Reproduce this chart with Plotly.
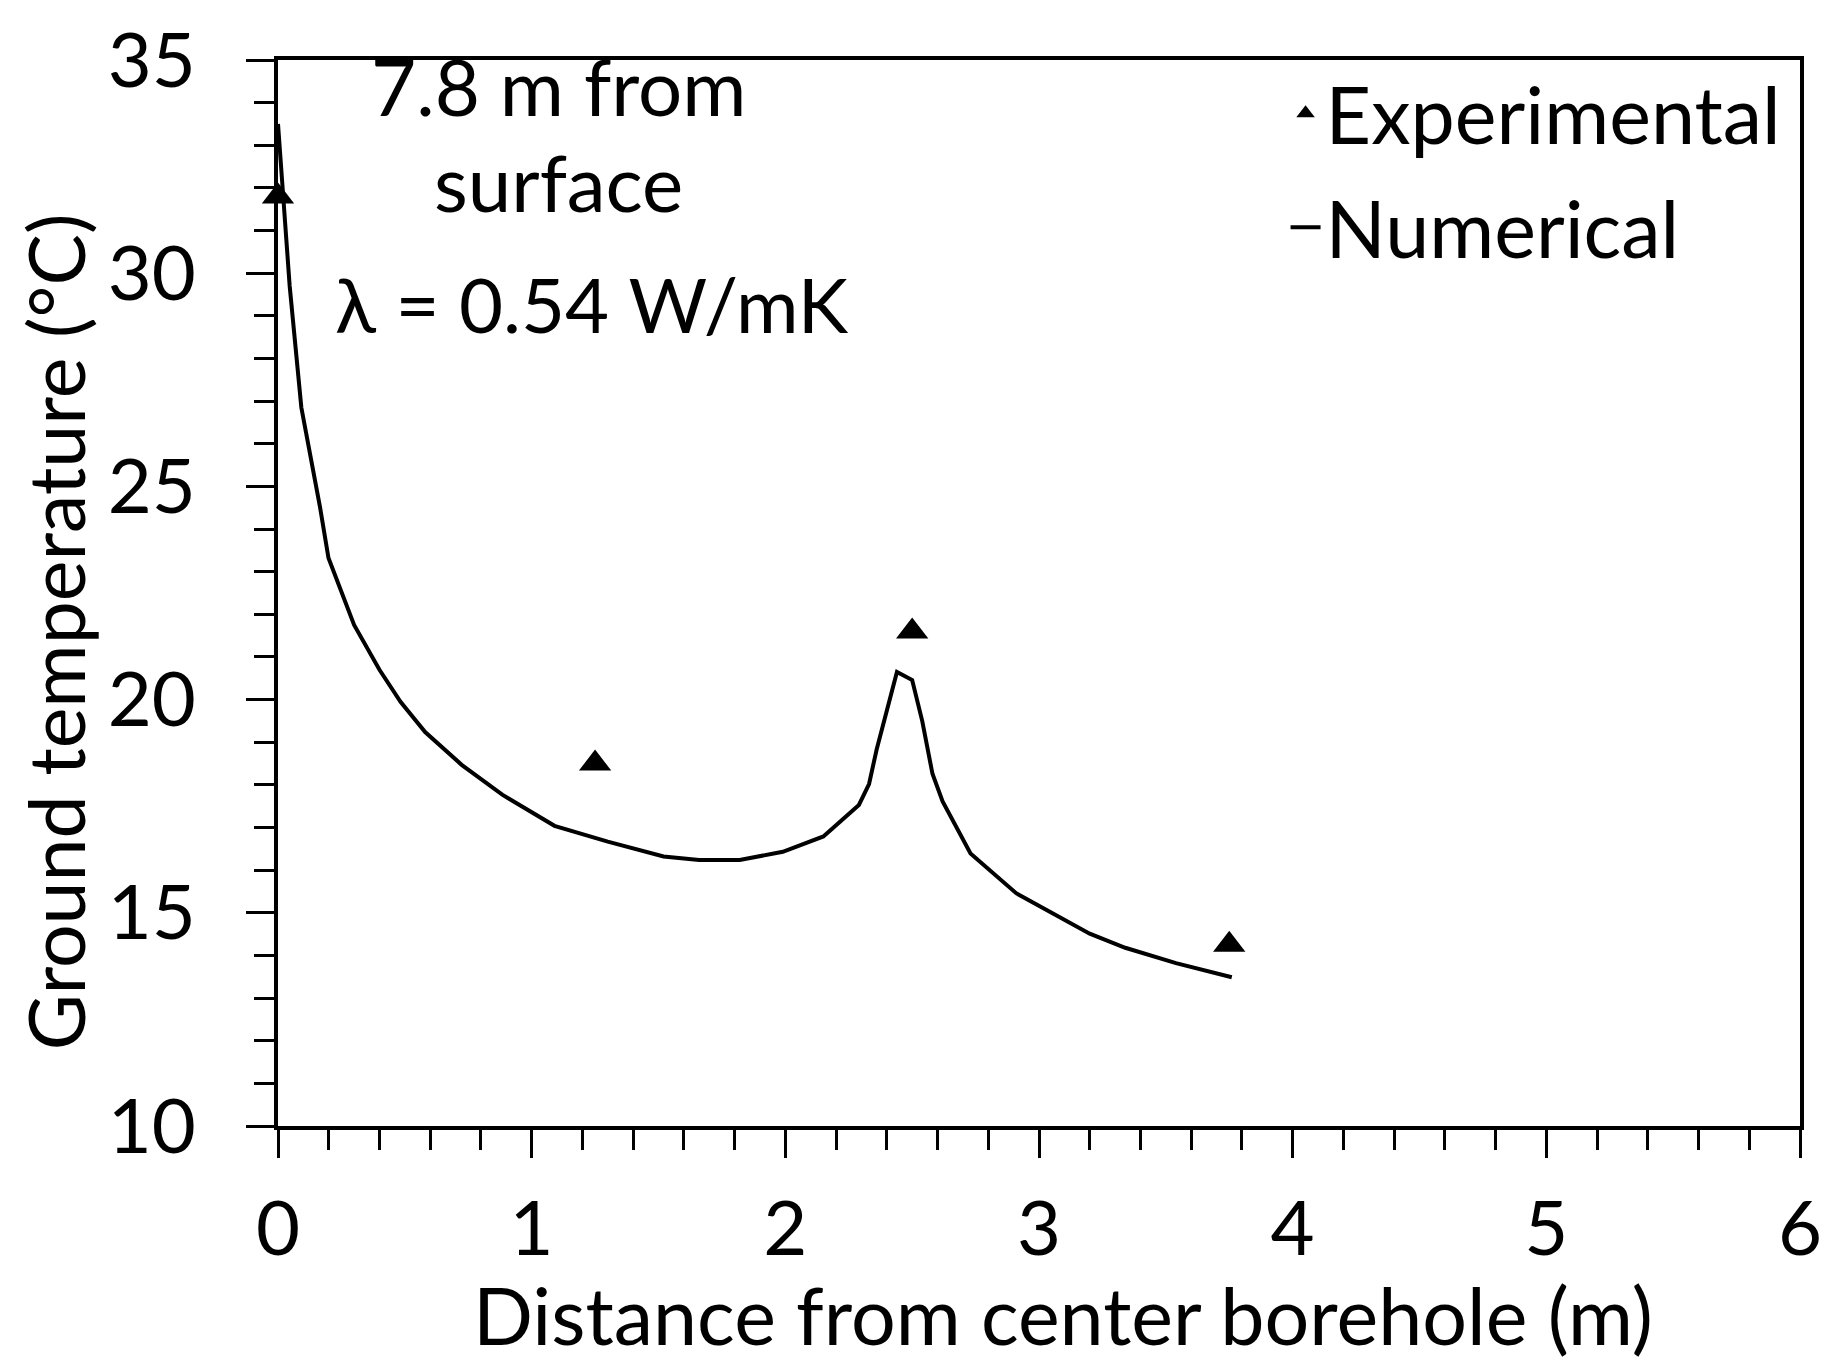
import plotly.graph_objects as go

# Experimental data
exp_x = [0.0, 1.25, 2.5, 3.75]
exp_y = [31.8, 18.5, 21.6, 14.25]

# Numerical data
num_x = [0.0, 0.046, 0.092, 0.166, 0.199, 0.30, 0.40, 0.483, 0.58, 0.724, 0.884, 1.09, 1.30,
         1.52, 1.66, 1.82, 1.99, 2.15, 2.29, 2.33, 2.36, 2.44, 2.50, 2.54, 2.58, 2.62, 2.73,
         2.91, 3.20, 3.34, 3.54, 3.76]
num_y = [33.5, 29.7, 26.85, 24.5, 23.32, 21.75, 20.7, 19.95, 19.24, 18.47, 17.77, 17.04, 16.67,
         16.32, 16.24, 16.24, 16.43, 16.79, 17.53, 18.02, 18.83, 20.65, 20.46, 19.49, 18.26, 17.61, 16.39,
         15.46, 14.51, 14.18, 13.82, 13.49]

FONT = "Lato"
FS = 76

fig = go.Figure()
fig.add_trace(go.Scatter(x=num_x, y=num_y, mode="lines", name="Numerical",
                         line=dict(color="black", width=4), legend="legend2"))
fig.add_trace(go.Scatter(x=exp_x, y=exp_y, mode="markers", name="Experimental",
                         marker=dict(symbol="triangle-up", size=28, color="black"),
                         legend="legend", cliponaxis=False))

axis_common = dict(showline=True, linecolor="black", linewidth=4, mirror=True,
                   ticks="outside", tickcolor="black", tickwidth=3, ticklen=28,
                   showgrid=False, zeroline=False,
                   tickfont=dict(family=FONT, size=FS, color="black"))

fig.update_xaxes(range=[0, 6], dtick=1, tick0=0,
                 minor=dict(dtick=0.2, ticks="outside", ticklen=20, tickwidth=3, tickcolor="black"),
                 ticklabelstandoff=6,
                 **axis_common)
fig.update_yaxes(range=[10, 35], dtick=5, tick0=10,
                 minor=dict(dtick=1, ticks="outside", ticklen=20, tickwidth=3, tickcolor="black"),
                 ticklabelstandoff=35,
                 **axis_common)

title_font = dict(family=FONT, size=79, color="black")
fig.add_annotation(x=0.516, y=-0.177, xref="paper", yref="paper",
                   text="Distance from center borehole (m)", showarrow=False,
                   font=title_font, xanchor="center", yanchor="middle")
fig.add_annotation(x=-0.146, y=0.464, xref="paper", yref="paper",
                   text="Ground temperature (°C)", showarrow=False, textangle=-90,
                   font=dict(family=FONT, size=77, color="black"),
                   xanchor="center", yanchor="middle")

ann_font = dict(family=FONT, size=78, color="black")
fig.add_annotation(x=1.107, y=34.40, text="7.8 m from", showarrow=False, font=ann_font,
                   xanchor="center", yanchor="middle")
fig.add_annotation(x=1.107, y=32.15, text="surface", showarrow=False, font=ann_font,
                   xanchor="center", yanchor="middle")
fig.add_annotation(x=1.236, y=29.28, text="λ = 0.54 W/mK", showarrow=False,
                   font=dict(family=FONT, size=76, color="black"),
                   xanchor="center", yanchor="middle")

leg_font = dict(family=FONT, size=79, color="black")
fig.update_layout(
    width=1839, height=1364,
    margin=dict(l=278, r=39, t=52, b=238),
    plot_bgcolor="white", paper_bgcolor="white",
    font=dict(family=FONT, size=FS, color="black"),
    showlegend=True,
    legend=dict(x=0.662, y=0.95, xanchor="left", yanchor="middle", font=leg_font,
                bgcolor="rgba(0,0,0,0)", borderwidth=0),
    legend2=dict(x=0.662, y=0.843, xanchor="left", yanchor="middle", font=leg_font,
                 bgcolor="rgba(0,0,0,0)", borderwidth=0),
)

fig.write_html("out.html")
